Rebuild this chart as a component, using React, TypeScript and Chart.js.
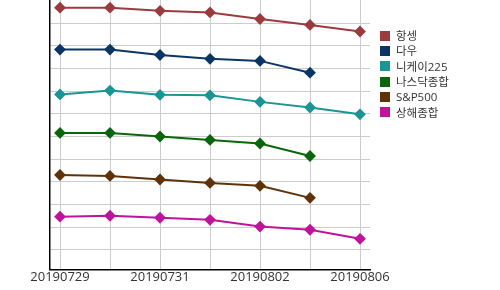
import React, { useEffect, useRef } from "react";
import { Chart, registerables } from "chart.js";

Chart.register(...registerables);

const dates = ["20190729", "20190730", "20190731", "20190801", "20190802", "20190805", "20190806"];
const seriesNames = ["항셍", "다우", "니케이225", "나스닥종합", "S&P500", "상해종합"];
const seriesColors = ["#9b3b3e", "#0b3566", "#1a9595", "#0a660a", "#5e3308", "#c0139c"];
const hangSeng = [106.9, 106.9, 105.5, 104.8, 101.9, 99.3, 96.4];
const dow = [88.4, 88.4, 86.0, 84.3, 83.4, 78.2, null];
const nikkei = [68.6, 70.3, 68.4, 68.2, 65.3, 62.8, 59.8];
const nasdaq = [51.6, 51.6, 50.0, 48.5, 46.9, 41.4, null];
const sp500 = [33.0, 32.6, 31.0, 29.5, 28.2, 22.9, null];
const shanghai = [14.6, 15.0, 14.1, 13.2, 10.2, 8.8, 4.8];
const allSeries = [hangSeng, dow, nikkei, nasdaq, sp500, shanghai];

const FONT = "'Open Sans', 'Noto Sans CJK KR', sans-serif";

export default function App() {
  const ref = useRef<HTMLCanvasElement | null>(null);

  useEffect(() => {
    if (!ref.current) return;
    const chart = new Chart(ref.current, {
      type: "line",
      data: {
        datasets: allSeries.map((vals, si) => ({
          label: seriesNames[si],
          data: vals.map((v, i) => ({ x: i, y: v })),
          borderColor: seriesColors[si],
          backgroundColor: seriesColors[si],
          pointBackgroundColor: seriesColors[si],
          pointBorderColor: seriesColors[si],
          pointStyle: "rectRot",
          pointRadius: 4.5,
          borderWidth: 2,
          tension: 0,
          fill: false,
          clip: false,
        })),
      },
      options: {
        animation: false,
        responsive: false,
        layout: { autoPadding: false, padding: { left: 50, right: 130, top: 0, bottom: 5 } },
        plugins: { legend: { display: false }, tooltip: { enabled: false } },
        scales: {
          x: {
            type: "linear",
            min: -0.2,
            max: 6.2,
            border: { color: "#000", width: 1.5 },
            grid: { color: "#cccccc", drawTicks: false },
            ticks: {
              stepSize: 1,
              includeBounds: false,
              autoSkip: false,
              maxRotation: 0,
              padding: 0,
              color: "#333",
              font: { family: FONT, size: 13 },
              callback: (v: any) => {
                const n = Number(v);
                return Number.isInteger(n) && n % 2 === 0 ? dates[n] : "";
              },
            },
          },
          y: {
            type: "linear",
            min: -8.7,
            max: 110.3,
            border: { color: "#000", width: 1.5 },
            grid: {
              drawTicks: false,
              color: (ctx: any) => (ctx.tick && ctx.tick.value >= 110 ? "rgba(0,0,0,0)" : "#cccccc"),
            },
            ticks: { display: false, stepSize: 10, includeBounds: false },
          },
        },
      },
    });
    return () => chart.destroy();
  }, []);

  return (
    <div style={{ position: "fixed", left: 0, top: 0, width: 500, height: 290, background: "#fff" }}>
      <canvas ref={ref} width={500} height={290} style={{ display: "block" }} />
      <div style={{ position: "absolute", left: 380, top: 28, fontFamily: FONT, fontSize: 11.5, color: "#333" }}>
        {seriesNames.map((n, i) => (
          <div key={n} style={{ display: "flex", alignItems: "center", height: 15.3 }}>
            <span style={{ width: 10, height: 10, background: seriesColors[i], display: "inline-block", marginRight: 6 }} />
            <span style={{ lineHeight: "15px" }}>{n}</span>
          </div>
        ))}
      </div>
    </div>
  );
}
